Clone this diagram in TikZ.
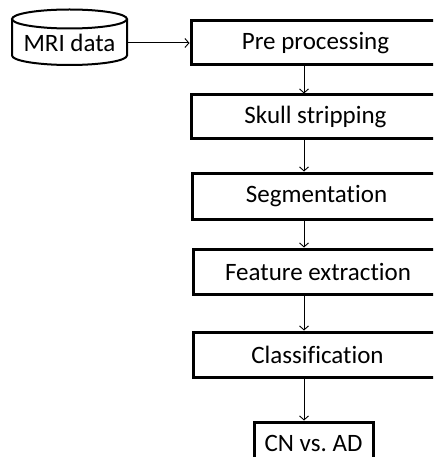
\documentclass[tikz,border=0pt]{standalone}
\usepackage{fontspec}
\setmainfont{Carlito}[Ligatures={NoCommon}]
\usetikzlibrary{arrows.meta}
\frenchspacing
\begin{document}
\begin{tikzpicture}[x=1pt,y=1pt,
  txt/.style={font=\fontsize{25}{28}\selectfont},
  stage/.style={txt, draw, line width=3pt, minimum width=249pt, minimum height=44pt, inner sep=0pt},
  conn/.style={line width=1pt, -{Straight Barb[length=4pt,width=9pt,line width=0.9pt]}},
  cyl/.style={line width=2pt}]
\useasboundingbox (0,0) rectangle (433,-457);
\clip (0,0) rectangle (433,-457);
% database cylinder
\draw[cyl] (12,-19) -- (12,-55.5) arc[start angle=180,end angle=360,x radius=57.5pt,y radius=9.5pt] -- (127,-19);
\draw[cyl] (69.5,-19) ellipse[x radius=57.5pt,y radius=9.5pt];
\node[txt, minimum width=115pt, inner sep=0pt, outer sep=0pt] (mri) at (69.5,-43) {MRI data};
% stages
\node[stage] (pre) at (315.5,-43) {Pre processing};
\node[stage] (skull) at (315.5,-117) {Skull stripping};
\node[stage, minimum height=46pt] (seg) at (316.5,-196) {Segmentation};
\node[stage, minimum height=45pt] (feat) at (318,-271.5) {Feature extraction};
\node[stage, minimum height=45pt] (cls) at (317.5,-354.5) {Classification};
\node[stage, minimum width=119pt, minimum height=42pt] (cn) at (313.5,-443) {CN vs.\ AD};
% connectors
\coordinate (ax) at (304,0);
\draw[conn] (mri.east) -- (pre.west);
\draw[conn] (pre.south -| ax) -- (skull.north -| ax);
\draw[conn] (skull.south -| ax) -- (seg.north -| ax);
\draw[conn] (seg.south -| ax) -- (feat.north -| ax);
\draw[conn] (feat.south -| ax) -- (cls.north -| ax);
\draw[conn] (cls.south -| ax) -- (cn.north -| ax);
\end{tikzpicture}
\end{document}
